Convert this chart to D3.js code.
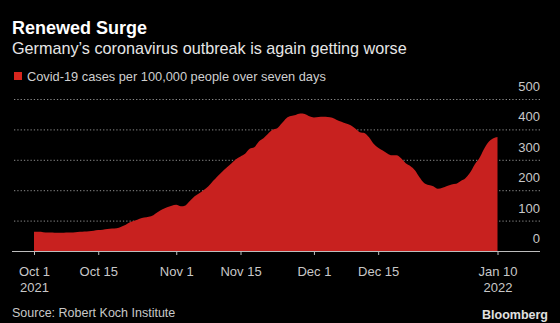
<!DOCTYPE html>
<html>
<head>
<meta charset="utf-8">
<script src="https://cdn.jsdelivr.net/npm/d3@7"></script>
<style>
  html, body { margin: 0; padding: 0; background: #000; }
  svg { display: block; font-family: "Liberation Sans", Arial, sans-serif; }
  .title { fill: #fff; font-weight: bold; font-size: 18px; }
  .subtitle { fill: #e6e6e6; font-size: 16.2px; }
  .legend-text { fill: #cfcfcf; font-size: 12.8px; }
  .axis text { fill: #c8c8c8; font-size: 13px; font-family: "Liberation Sans", Arial, sans-serif; }
  .source { fill: #c8c8c8; font-size: 12.5px; }
  .brand { fill: #e0e0e0; font-size: 12.5px; font-weight: bold; }
</style>
</head>
<body>
<svg id="chart" width="560" height="323"></svg>
<script>
// 7-day incidence per 100,000, daily from Oct 1 2021 to Jan 10 2022
var startDate = new Date(2021, 9, 1);
var incidence = [
  63, 63, 62, 61, 61, 60, 60, 61, 61, 62,          // Oct 1-10
  63, 64, 65, 67, 69, 70, 72, 74, 75, 80,          // Oct 11-20
  86, 95, 100, 106, 110, 113, 118, 128, 137, 144,  // Oct 21-30
  149, 152, 147, 150, 165, 180, 190, 201, 213, 230, // Oct 31-Nov 9
  246, 261, 275, 288, 302, 311, 320, 336, 341, 360, // Nov 10-19
  371, 386, 399, 404, 420, 437, 444, 447, 452, 451, // Nov 20-29
  443, 439, 441, 442, 441, 438, 431, 425, 419, 414, // Nov 30-Dec 9
  403, 391, 388, 374, 353, 340, 331, 321, 315, 315, // Dec 10-19
  305, 289, 280, 266, 243, 224, 217, 213, 205, 208, // Dec 20-29
  214, 219, 221, 230, 239, 257, 284, 304, 334, 358, // Dec 30-Jan 8
  370, 375                                          // Jan 9-10
];
var series = incidence.map(function (v, i) {
  return { date: d3.timeDay.offset(startDate, i), value: v };
});

var xTicks = [
  new Date(2021, 9, 1), new Date(2021, 9, 15), new Date(2021, 10, 1),
  new Date(2021, 10, 15), new Date(2021, 11, 1), new Date(2021, 11, 15),
  new Date(2022, 0, 10)
];
var xTickLabels = ['Oct 1|2021', 'Oct 15', 'Nov 1', 'Nov 15', 'Dec 1', 'Dec 15', 'Jan 10|2022'];
var yTicks = [0, 100, 200, 300, 400, 500];

var svg = d3.select('#chart');

var plot = { left: 12, right: 540, top: 99, bottom: 251 };

// first and last day sit on their ticks, leaving margin on both sides
var x = d3.scaleTime()
  .domain([new Date(2021, 9, 1), new Date(2022, 0, 10)])
  .range([34, 497.5]);

var y = d3.scaleLinear()
  .domain([0, 500])
  .range([plot.bottom, plot.top]);

// header
svg.append('text').attr('class', 'title').attr('x', 12).attr('y', 34).text('Renewed Surge');
svg.append('text').attr('class', 'subtitle').attr('x', 12).attr('y', 54).text('Germany\u2019s coronavirus outbreak is again getting worse');

svg.append('rect').attr('x', 14).attr('y', 72).attr('width', 8).attr('height', 8).attr('fill', '#d7261e');
svg.append('text').attr('class', 'legend-text').attr('x', 27).attr('y', 81).text('Covid-19 cases per 100,000 people over seven days');

// dotted gridlines
var grid = svg.append('g')
  .attr('transform', 'translate(' + plot.right + ',0)')
  .call(d3.axisLeft(y).tickValues(yTicks.slice(1)).tickSize(plot.right - plot.left).tickFormat(''));
grid.select('.domain').remove();
grid.selectAll('line')
  .attr('stroke', '#8a8a8a')
  .attr('stroke-width', 1)
  .attr('stroke-dasharray', '1.3,2');

// area
var area = d3.area()
  .x(function (d) { return x(d.date); })
  .y0(y(0))
  .y1(function (d) { return y(d.value); })
  .curve(d3.curveMonotoneX);

svg.append('path')
  .datum(series)
  .attr('fill', '#c8211f')
  .attr('d', area);

// y labels sit just above their gridline
var yAxis = svg.append('g')
  .attr('class', 'axis')
  .attr('transform', 'translate(' + plot.right + ',0)')
  .call(d3.axisLeft(y).tickValues(yTicks).tickSize(0).tickPadding(0));
yAxis.select('.domain').remove();
yAxis.selectAll('text').attr('dy', '-0.65em').attr('text-anchor', 'end');

// x axis
var xAxis = svg.append('g')
  .attr('class', 'axis')
  .attr('transform', 'translate(0,' + plot.bottom + ')')
  .call(d3.axisBottom(x).tickValues(xTicks).tickSize(4).tickPadding(0).tickFormat(''));
xAxis.select('.domain')
  .attr('d', 'M' + plot.left + ',0.5H' + plot.right)
  .attr('stroke', '#bdbdbd');
xAxis.selectAll('.tick line').attr('stroke', '#bdbdbd');
xAxis.selectAll('.tick text').remove();
xAxis.selectAll('.tick').each(function (d, i) {
  var lines = xTickLabels[i].split('|');
  var t = d3.select(this).append('text')
    .attr('text-anchor', 'middle')
    .attr('y', 25);
  lines.forEach(function (line, k) {
    t.append('tspan').attr('x', 0).attr('dy', k === 0 ? 0 : 16).text(line);
  });
});

// footer
svg.append('text').attr('class', 'source').attr('x', 12).attr('y', 317).text('Source: Robert Koch Institute');
svg.append('text').attr('class', 'brand').attr('x', 548).attr('y', 319).attr('text-anchor', 'end').text('Bloomberg');
</script>
</body>
</html>
